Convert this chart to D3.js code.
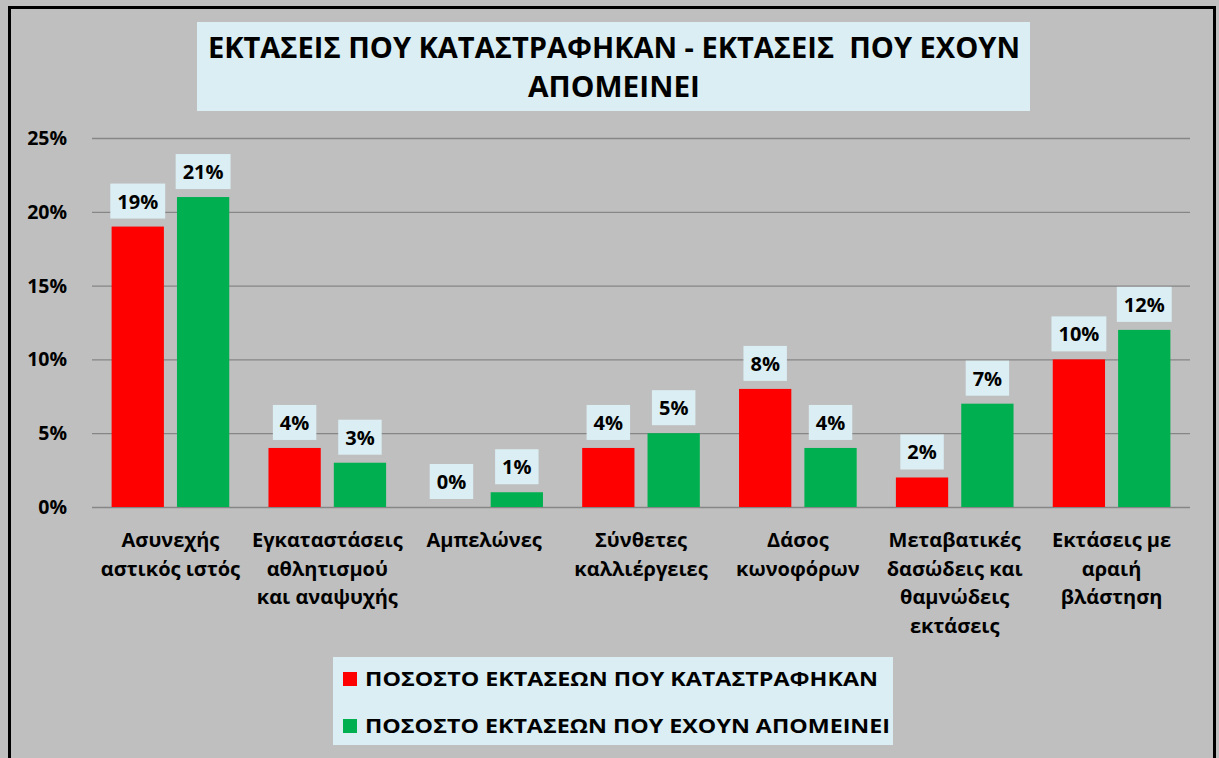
<!DOCTYPE html>
<html>
<head>
<meta charset="utf-8">
<script src="https://cdn.jsdelivr.net/npm/d3@7"></script>
<style>
  body { margin: 0; background: #bfbfbf; }
  svg text { font-family: "Open Sans", "Noto Sans", sans-serif; font-weight: bold; fill: #000; }
</style>
</head>
<body>
<svg id="chart" width="1219" height="758"></svg>
<script>
// data
const categories = [
    ["Ασυνεχής", "αστικός ιστός"],
    ["Εγκαταστάσεις", "αθλητισμού", "και αναψυχής"],
    ["Αμπελώνες"],
    ["Σύνθετες", "καλλιέργειες"],
    ["Δάσος", "κωνοφόρων"],
    ["Μεταβατικές", "δασώδεις και", "θαμνώδεις", "εκτάσεις"],
    ["Εκτάσεις με", "αραιή", "βλάστηση"]
];
const destroyed = [0.19, 0.04, 0.00, 0.04, 0.08, 0.02, 0.10];
const remaining = [0.21, 0.03, 0.01, 0.05, 0.04, 0.07, 0.12];
const seriesNames = ["ΠΟΣΟΣΤΟ ΕΚΤΑΣΕΩΝ ΠΟΥ ΚΑΤΑΣΤΡΑΦΗΚΑΝ", "ΠΟΣΟΣΤΟ ΕΚΤΑΣΕΩΝ ΠΟΥ ΕΧΟΥΝ ΑΠΟΜΕΙΝΕΙ"];
const yTicks = [0, 0.05, 0.10, 0.15, 0.20, 0.25];
const titleLines = ["ΕΚΤΑΣΕΙΣ ΠΟΥ ΚΑΤΑΣΤΡΑΦΗΚΑΝ - ΕΚΤΑΣΕΙΣ  ΠΟΥ ΕΧΟΥΝ", "ΑΠΟΜΕΙΝΕΙ"];

const colors = ["#ff0000", "#00b050"];
const labelFill = "#daeef3";

const svg = d3.select("#chart");

// background + frame
svg.append("rect").attr("width", 1219).attr("height", 758).attr("fill", "#bfbfbf");
svg.append("rect")
    .attr("x", 9.5).attr("y", 7.5)
    .attr("width", 1205).attr("height", 770)
    .attr("fill", "none").attr("stroke", "#000").attr("stroke-width", 3);

// title
svg.append("rect")
    .attr("x", 197).attr("y", 22).attr("width", 833).attr("height", 89)
    .attr("fill", labelFill);
svg.selectAll(".title").data(titleLines).enter().append("text")
    .attr("class", "title")
    .attr("x", 614)
    .attr("y", (d, i) => 58 + i * 39)
    .attr("text-anchor", "middle")
    .style("font-size", "28px")
    .attr("textLength", (d, i) => i === 0 ? 812 : 172)
    .attr("lengthAdjust", "spacingAndGlyphs")
    .style("white-space", "pre")
    .text(d => d);

// scales
const plotLeft = 92, plotRight = 1190;
const y = d3.scaleLinear().domain([0, 0.25]).range([507, 138]);
const x0 = d3.scaleBand().domain(d3.range(categories.length)).range([plotLeft, plotRight]).padding(0);
const x1 = d3.scaleBand().domain([0, 1]).range([0, x0.bandwidth()]).paddingInner(0.2).paddingOuter(0.3);

// grid
const yAxis = d3.axisLeft(y).tickValues(yTicks).tickSize(-(plotRight - plotLeft)).tickFormat("");
const grid = svg.append("g").attr("transform", `translate(${plotLeft},0)`).call(yAxis);
grid.select(".domain").remove();
grid.selectAll("line").attr("stroke", "#868686").attr("stroke-width", 1.3);

// y tick labels
svg.selectAll(".ytick").data(yTicks).enter().append("text")
    .attr("x", 67)
    .attr("y", d => y(d) + 7)
    .attr("text-anchor", "end")
    .style("font-size", "19.5px")
    .text(d => d3.format(".0%")(d));

// bars
const rows = categories.map((c, i) => [destroyed[i], remaining[i]]);
const groups = svg.selectAll(".grp").data(rows).enter().append("g")
    .attr("transform", (d, i) => `translate(${x0(i)},0)`);

groups.selectAll("rect.bar").data(d => d).enter().append("rect")
    .attr("class", "bar")
    .attr("x", (d, j) => x1(j))
    .attr("width", x1.bandwidth())
    .attr("y", d => y(d))
    .attr("height", d => y(0) - y(d))
    .attr("fill", (d, j) => colors[j]);

// value labels
groups.each(function(d) {
    const g = d3.select(this);
    d.forEach((v, j) => {
        const cx = x1(j) + x1.bandwidth() / 2;
        const lbl = g.append("g");
        const box = lbl.append("rect").attr("fill", labelFill);
        const t = lbl.append("text")
            .attr("x", cx)
            .attr("y", y(v) - 18)
            .attr("text-anchor", "middle")
            .style("font-size", "20px")
            .text(d3.format(".0%")(v));
        const w = t.node().getComputedTextLength() + 14;
        box.attr("x", cx - w / 2).attr("y", y(v) - 43)
            .attr("width", w).attr("height", 35);
    });
});

// category labels
groups.each(function(d, i) {
    const g = d3.select(this);
    g.selectAll("text.cat").data(categories[i]).enter().append("text")
        .attr("class", "cat")
        .attr("x", x0.bandwidth() / 2)
        .attr("y", (t, k) => 547 + k * 28.7)
        .attr("text-anchor", "middle")
        .style("font-size", "20px")
        .text(t => t);
});

// legend
svg.append("rect")
    .attr("x", 333).attr("y", 657).attr("width", 560).attr("height", 88)
    .attr("fill", labelFill);
const leg = svg.selectAll(".leg").data(seriesNames).enter().append("g")
    .attr("transform", (d, i) => `translate(343,${679 + i * 47})`);
leg.append("rect")
    .attr("x", 0).attr("y", -7).attr("width", 14).attr("height", 14)
    .attr("fill", (d, i) => colors[i]);
leg.append("text")
    .attr("x", 22).attr("y", 7)
    .style("font-size", "20px")
    .attr("textLength", (d, i) => i === 0 ? 513 : 525)
    .attr("lengthAdjust", "spacingAndGlyphs")
    .text(d => d);
</script>
</body>
</html>
